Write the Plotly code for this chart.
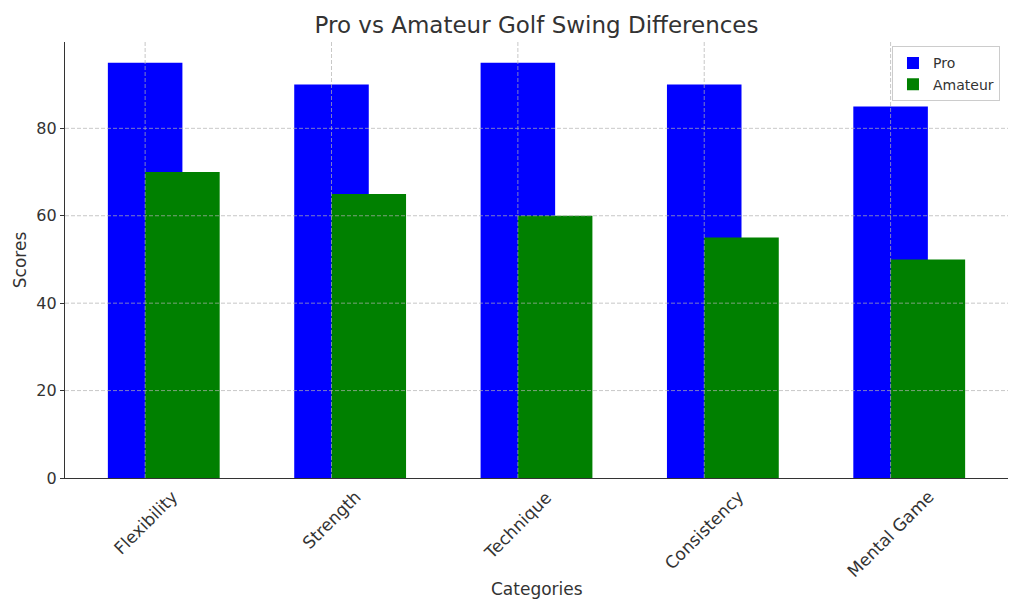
import plotly.graph_objects as go

categories = ["Flexibility", "Strength", "Technique", "Consistency", "Mental Game"]
pro_scores = [95, 90, 95, 90, 85]
amateur_scores = [70, 65, 60, 55, 50]
y_ticks = [0, 20, 40, 60, 80]

bar_width = 0.4
pos = list(range(len(categories)))
x_range = [-0.43, 4.63]
y_range = [0, 99.75]

fig = go.Figure()
fig.add_trace(go.Bar(
    x=pos, y=pro_scores, width=bar_width, name="Pro",
    marker=dict(color="#0000ff", line=dict(width=0)),
))
fig.add_trace(go.Bar(
    x=[p + bar_width / 2 for p in pos], y=amateur_scores, width=bar_width, name="Amateur",
    marker=dict(color="#008000", line=dict(width=0)),
))

# grid drawn above the bars (as in the reference)
grid_col = "rgba(176,176,176,0.7)"
gx, gy = [], []
for p in pos:
    gx += [p, p, None]
    gy += [y_range[0], y_range[1], None]
for t in y_ticks[1:]:
    gx += [x_range[0], x_range[1], None]
    gy += [t, t, None]
fig.add_trace(go.Scatter(
    x=gx, y=gy, mode="lines", showlegend=False, hoverinfo="skip",
    line=dict(color=grid_col, width=1, dash="4px,2px"),
))

font = "DejaVu Sans, Arial, sans-serif"
txt = "#333333"

annotations = []
for p, c in zip(pos, categories):
    annotations.append(dict(
        x=p, xref="x", y=-0.014, yref="paper", text=c, showarrow=False,
        textangle=-45, xanchor="center", yanchor="top",
        font=dict(family=font, size=17, color=txt),
    ))
annotations.append(dict(
    x=0.5, xref="paper", y=-0.255, yref="paper", text="Categories", showarrow=False,
    xanchor="center", yanchor="middle", font=dict(family=font, size=17, color=txt),
))

fig.update_layout(
    width=1024, height=614,
    barmode="overlay",
    plot_bgcolor="white", paper_bgcolor="white",
    margin=dict(l=65, r=16, t=42, b=136, autoexpand=False),
    title=dict(text="Pro vs Amateur Golf Swing Differences", x=0.5, xanchor="center",
               xref="paper", y=0.959, yanchor="middle",
               font=dict(family=font, size=23, color=txt)),
    font=dict(family=font, color=txt),
    legend=dict(x=0.9915, y=0.99, xanchor="right", yanchor="top",
                bgcolor="rgba(255,255,255,0.8)", bordercolor="#cccccc", borderwidth=1,
                font=dict(size=14, color=txt)),
    annotations=annotations,
    xaxis=dict(
        range=x_range, tickmode="array", tickvals=pos, ticktext=categories,
        showticklabels=False, showgrid=False,
        showline=True, linecolor="#333333", linewidth=1.2,
        ticks="", zeroline=False, automargin=False,
    ),
    yaxis=dict(
        range=y_range, tickmode="array", tickvals=y_ticks,
        tickfont=dict(size=16, color=txt),
        showgrid=False,
        showline=True, linecolor="#333333", linewidth=1.2,
        ticks="outside", ticklen=4, tickcolor="#333333",
        title=dict(text="Scores", font=dict(size=17, color=txt), standoff=5),
        zeroline=False, automargin=False, layer="above traces",
    ),
)

fig.write_html("out.html", config={"displayModeBar": False},
               post_script="document.body.style.margin='0';")
